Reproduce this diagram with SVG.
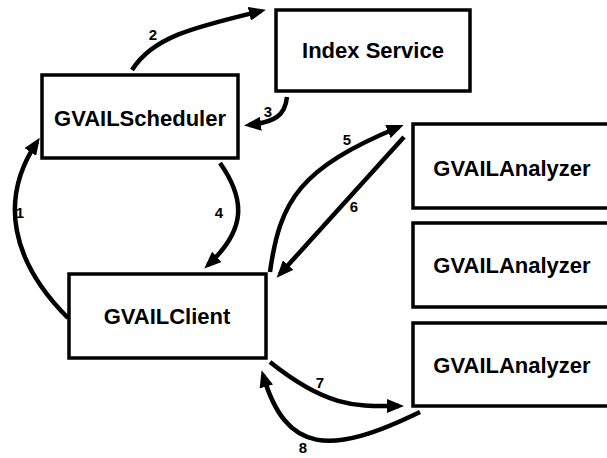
<svg xmlns="http://www.w3.org/2000/svg" width="607" height="458" viewBox="0 0 607 458">
<style>
.box{fill:#fff;stroke:#000;stroke-width:3.5}
.t{font-family:"Liberation Sans",Arial,sans-serif;font-weight:bold;font-size:22px;text-anchor:middle;fill:#000}
.l{font-family:"Liberation Sans",Arial,sans-serif;font-weight:bold;font-size:15px;text-anchor:middle;fill:#000}
.c{fill:none;stroke:#000;stroke-width:4.5;marker-end:url(#ah)}
</style>
<defs>
<marker id="ah" markerUnits="userSpaceOnUse" markerWidth="17" markerHeight="14" refX="12" refY="7" orient="auto">
<path d="M0,0 L17,7 L0,14 z" fill="#000"/>
</marker>
</defs>
<g id="index-service"><rect class="box" x="276" y="10" width="194" height="81"/><text class="t" x="373" y="58">Index Service</text></g>
<g id="scheduler"><rect class="box" x="42" y="75" width="196" height="83"/><text class="t" x="140" y="126">GVAILScheduler</text></g>
<g id="client"><rect class="box" x="69" y="274" width="197" height="84"/><text class="t" x="167" y="324">GVAILClient</text></g>
<g id="analyzer1"><rect class="box" x="413" y="124" width="198" height="84"/><text class="t" x="512" y="176">GVAILAnalyzer</text></g>
<g id="analyzer2"><rect class="box" x="413" y="223" width="198" height="84"/><text class="t" x="512" y="273">GVAILAnalyzer</text></g>
<g id="analyzer3"><rect class="box" x="413" y="323" width="198" height="83"/><text class="t" x="512" y="373">GVAILAnalyzer</text></g>
<g id="connectors">
<path class="c" d="M68,318 C12,262 -2,200 37,142"/>
<path class="c" d="M132,70 C152,38 190,28 261,11"/>
<path class="c" d="M287,97 C285,115 276,122 249,125"/>
<path class="c" d="M220,163 C246,200 246,230 208,265"/>
<path class="c" d="M270,272 C280,200 300,168 399,127"/>
<path class="c" d="M404,137 L280,274"/>
<path class="c" d="M270,362 C330,410 360,406 399,406"/>
<path class="c" d="M420,412 C330,456 286,454 263,375"/>
<text class="l" x="20" y="218">1</text>
<text class="l" x="153" y="40">2</text>
<text class="l" x="268" y="117">3</text>
<text class="l" x="219" y="218">4</text>
<text class="l" x="347" y="145">5</text>
<text class="l" x="354" y="212">6</text>
<text class="l" x="320" y="388">7</text>
<text class="l" x="303" y="453">8</text>
</g>
</svg>
